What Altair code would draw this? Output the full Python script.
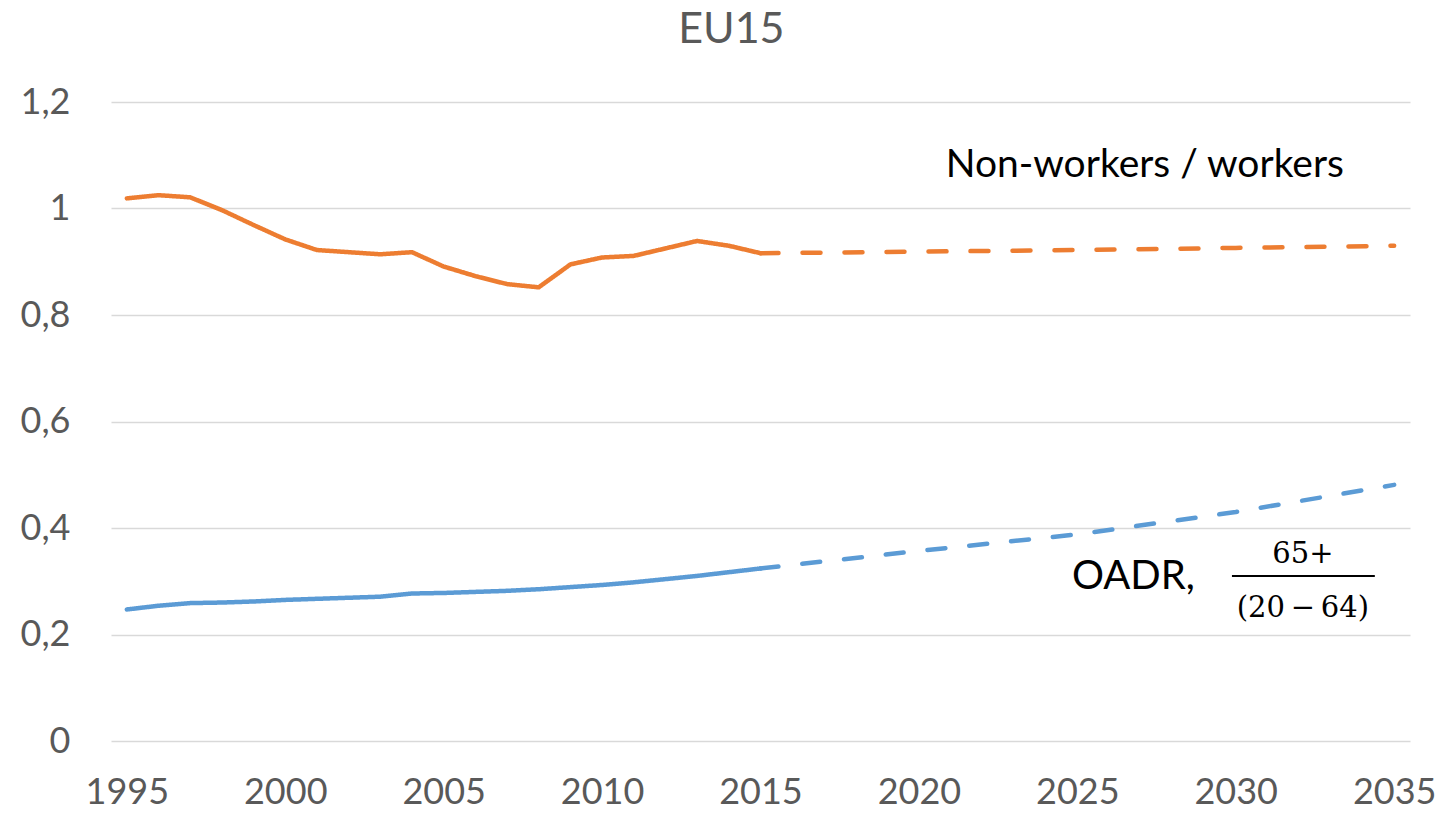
import altair as alt
import pandas as pd

# Actual data 1995-2015
years_hist = list(range(1995, 2016))
nonworkers_hist = [1.019, 1.025, 1.021, 0.997, 0.969, 0.942, 0.922, 0.918, 0.914, 0.918,
                   0.891, 0.873, 0.858, 0.852, 0.895, 0.908, 0.911, 0.925, 0.939, 0.930, 0.916]
oadr_hist = [0.247, 0.254, 0.259, 0.260, 0.262, 0.265, 0.267, 0.269, 0.271, 0.277,
             0.278, 0.280, 0.282, 0.285, 0.289, 0.293, 0.298, 0.304, 0.310, 0.317, 0.324]

# Projections 2015-2035
years_proj = [2015, 2020, 2025, 2030, 2035]
nonworkers_proj = [0.916, 0.919, 0.922, 0.926, 0.930]
oadr_proj = [0.324, 0.357, 0.388, 0.430, 0.481]

x_ticks = [1995, 2000, 2005, 2010, 2015, 2020, 2025, 2030, 2035]
y_ticks = [0, 0.2, 0.4, 0.6, 0.8, 1.0, 1.2]

rows = []
for y, v in zip(years_hist, nonworkers_hist):
    rows.append({"year": y, "value": v, "series": "Non-workers / workers", "kind": "actual"})
for y, v in zip(years_hist, oadr_hist):
    rows.append({"year": y, "value": v, "series": "OADR", "kind": "actual"})
for y, v in zip(years_proj, nonworkers_proj):
    rows.append({"year": y, "value": v, "series": "Non-workers / workers", "kind": "projection"})
for y, v in zip(years_proj, oadr_proj):
    rows.append({"year": y, "value": v, "series": "OADR", "kind": "projection"})
df = pd.DataFrame(rows)
df["grp"] = df["series"] + "_" + df["kind"]

xscale = alt.Scale(domain=[1994.5, 2035.5], nice=False, zero=False)
yscale = alt.Scale(domain=[0, 1.2], nice=False)

base = alt.Chart(df)

lines = base.mark_line(strokeWidth=4.5, strokeCap="round", strokeJoin="round").encode(
    x=alt.X("year:Q", scale=xscale,
            axis=alt.Axis(values=x_ticks, format="d", title=None, grid=False, ticks=False,
                          domain=False, labelFontSize=36, labelFont="Lato", labelColor="#595959",
                          labelPadding=34, labelFlush=False)),
    y=alt.Y("value:Q", scale=yscale,
            axis=alt.Axis(values=y_ticks, title=None, ticks=False, domain=False,
                          labelExpr="replace(format(datum.value, '~g'), '.', ',')",
                          labelFontSize=36, labelFont="Lato", labelColor="#595959",
                          labelPadding=41, gridColor="#d9d9d9", gridWidth=1.5)),
    color=alt.Color("series:N", scale=alt.Scale(domain=["Non-workers / workers", "OADR"],
                                                range=["#ED7D31", "#5B9BD5"]), legend=None),
    strokeDash=alt.StrokeDash("kind:N", scale=alt.Scale(domain=["actual", "projection"],
                                                        range=[[1, 0], [18, 24]]), legend=None),
    detail="grp:N",
)

# Title
title_df = pd.DataFrame({"text": ["EU15"], "x": [2014.08], "y": [1.311]})
ttl = alt.Chart(title_df).mark_text(font="Lato", fontSize=43, color="#595959",
                                    align="center", baseline="alphabetic").encode(
    x=alt.X("x:Q", scale=xscale), y=alt.Y("y:Q", scale=yscale), text="text:N")

# Annotations
t1_df = pd.DataFrame({"text": ["Non-workers / workers"], "x": [2027.13], "y": [1.059]})
t1 = alt.Chart(t1_df).mark_text(font="Lato", fontSize=39, color="black",
                                align="center", baseline="alphabetic").encode(
    x=alt.X("x:Q", scale=xscale), y=alt.Y("y:Q", scale=yscale), text="text:N")

t2_df = pd.DataFrame({"text": ["OADR,"], "x": [2024.83], "y": [0.2855]})
t2 = alt.Chart(t2_df).mark_text(font="Lato", fontSize=40, color="black",
                                align="left", baseline="alphabetic").encode(
    x=alt.X("x:Q", scale=xscale), y=alt.Y("y:Q", scale=yscale), text="text:N")

frac_text = ["65+", "(20\u2009\u2212\u200964)"]
frac_x = [2032.12, 2032.12]
frac_y = [0.334, 0.233]
frac_df = pd.DataFrame({"text": frac_text, "x": frac_x, "y": frac_y})
t3 = alt.Chart(frac_df).mark_text(font="DejaVu Serif", fontSize=29, color="black",
                                  align="center", baseline="alphabetic").encode(
    x=alt.X("x:Q", scale=xscale), y=alt.Y("y:Q", scale=yscale), text="text:N")

bar_df = pd.DataFrame({"x1": [2029.88], "x2": [2034.39], "y": [0.310]})
rule = alt.Chart(bar_df).mark_rule(color="black", strokeWidth=2).encode(
    x=alt.X("x1:Q", scale=xscale), x2="x2:Q", y=alt.Y("y:Q", scale=yscale))

chart = alt.layer(lines, ttl, t1, t2, t3, rule).properties(
    width=1299, height=639,
    background="white",
    autosize=alt.AutoSizeParams(type="none"),
    padding={"left": 103, "top": 94, "right": 25, "bottom": 66},
).configure_view(stroke=None)

chart.save("out.html", embed_options={"renderer": "svg", "actions": False})
